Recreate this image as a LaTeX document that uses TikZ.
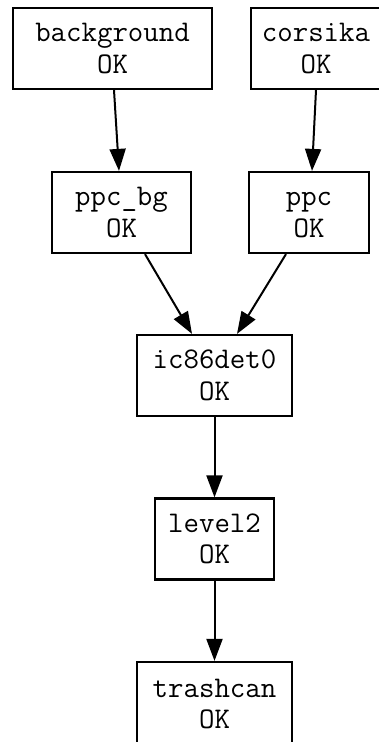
\documentclass[tikz,border=0pt]{standalone}
\usetikzlibrary{arrows.meta}
\begin{document}
\begin{tikzpicture}[x=1pt,y=-1pt,
  jobbox/.style={draw=black, line width=2.2pt, inner sep=0pt, minimum height=81pt,
    align=center, font=\ttfamily\fontsize{30}{31.5}\selectfont},
  link/.style={line width=2pt, -{Triangle[length=22pt,width=16pt]}}]
\useasboundingbox (0,0) rectangle (378,742);
\node[jobbox, minimum width=199pt] (bg) at (112.5,48.5) {background\\OK};
\node[jobbox, minimum width=130pt] (cors) at (316,48.5) {corsika\\OK};
\node[jobbox, minimum width=139pt] (ppcbg) at (121.5,212.5) {ppc\_bg\\OK};
\node[jobbox, minimum width=120pt] (ppc) at (309,212.5) {\vphantom{b}ppc\\OK};
\node[jobbox, minimum width=155pt] (ic) at (214.5,375.5) {ic86det0\\OK};
\node[jobbox, minimum width=119pt] (lv) at (214.5,539) {level2\\OK};
\node[jobbox, minimum width=155pt, minimum height=84pt] (tc) at (214.5,704) {trashcan\\OK};
\draw[link] ([xshift=1.5pt]bg.south) -- ([xshift=-2.5pt]ppcbg.north);
\draw[link] (cors.south) -- ([xshift=3pt]ppc.north);
\draw[link] ([xshift=23.5pt]ppcbg.south) -- ([xshift=-22.5pt]ic.north);
\draw[link] ([xshift=-23pt]ppc.south) -- ([xshift=22.5pt]ic.north);
\draw[link] (ic.south) -- (lv.north);
\draw[link] (lv.south) -- (tc.north);
\end{tikzpicture}
\end{document}
